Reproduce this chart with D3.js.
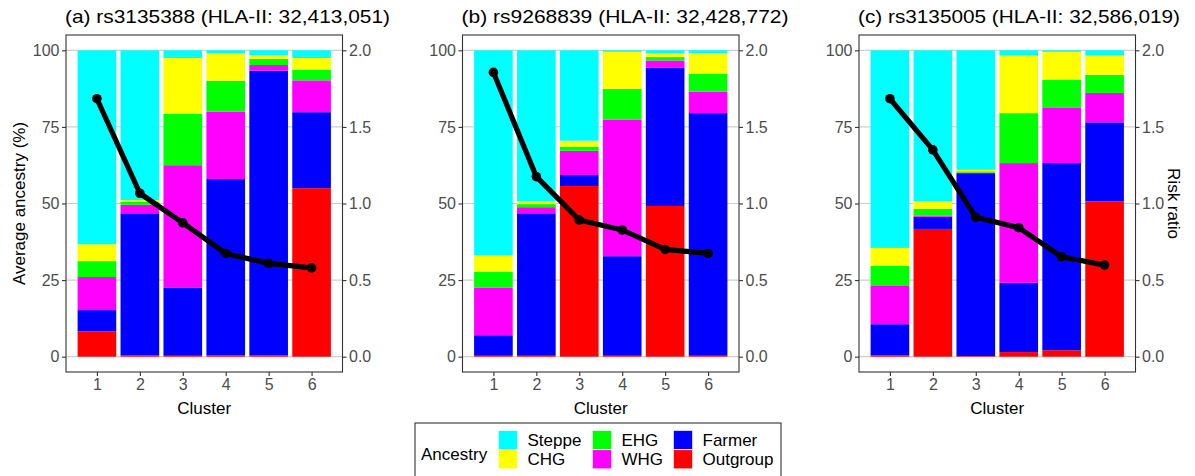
<!DOCTYPE html>
<html><head><meta charset="utf-8">
<script src="https://cdn.jsdelivr.net/npm/d3@7"></script>
<style>body{margin:0;background:#fff}svg{display:block;font-family:"Liberation Sans",Arial,sans-serif}</style>
</head><body><div id="chart"></div>
<script>
// ---- data ----
const clusters = [1, 2, 3, 4, 5, 6];
const ancestryStack = ["Outgroup", "Farmer", "WHG", "EHG", "CHG", "Steppe"]; // bottom -> top
const ancestryColors = {Steppe:"#00FFFF", CHG:"#FFFF00", EHG:"#00FF00", WHG:"#FF00FF", Farmer:"#0000FF", Outgroup:"#FF0000"};
const legendOrder = ["Steppe", "CHG", "EHG", "WHG", "Farmer", "Outgroup"];
const panelTitles = ["(a) rs3135388 (HLA-II: 32,413,051)", "(b) rs9268839 (HLA-II: 32,428,772)", "(c) rs3135005 (HLA-II: 32,586,019)"];
const leftTicks = [0, 25, 50, 75, 100];
const rightTicks = [0, 0.5, 1, 1.5, 2];

// panel (a)
const outgroupA = [8.3, 0.4, 0.3, 0.4, 0.4, 55.0];
const farmerA   = [6.9, 46.4, 22.3, 57.6, 93.0, 24.8];
const whgA      = [10.8, 2.8, 39.9, 22.0, 1.8, 10.4];
const ehgA      = [5.2, 0.9, 16.8, 10.1, 2.0, 3.5];
const chgA      = [5.5, 0.6, 18.2, 8.9, 1.2, 3.8];
const steppeA   = [63.3, 48.9, 2.5, 1.0, 1.6, 2.5];
const riskA     = [1.684, 1.067, 0.874, 0.674, 0.609, 0.580];
// panel (b)
const outgroupB = [0.3, 0.3, 55.7, 0.3, 49.2, 0.3];
const farmerB   = [6.7, 46.5, 3.6, 32.5, 45.2, 79.2];
const whgB      = [15.6, 2.0, 7.9, 44.5, 2.3, 7.0];
const ehgB      = [5.1, 1.0, 1.4, 10.1, 1.1, 5.9];
const chgB      = [5.4, 0.9, 1.9, 12.1, 1.2, 6.7];
const steppeB   = [66.9, 49.3, 29.5, 0.5, 1.0, 0.9];
const riskB     = [1.856, 1.175, 0.892, 0.827, 0.700, 0.674];
// panel (c)
const outgroupC = [0.4, 41.7, 0.2, 1.5, 2.1, 50.7];
const farmerC   = [10.2, 4.0, 59.7, 22.6, 61.1, 25.8];
const whgC      = [12.7, 0.4, 0.2, 39.1, 18.0, 9.6];
const ehgC      = [6.3, 2.2, 0.4, 16.3, 9.2, 5.9];
const chgC      = [5.9, 2.4, 0.5, 18.8, 9.1, 6.3];
const steppeC   = [64.5, 49.3, 39.0, 1.7, 0.5, 1.7];
const riskC     = [1.684, 1.350, 0.910, 0.842, 0.652, 0.598];

const panels = [
  {title: panelTitles[0], Outgroup: outgroupA, Farmer: farmerA, WHG: whgA, EHG: ehgA, CHG: chgA, Steppe: steppeA, risk: riskA},
  {title: panelTitles[1], Outgroup: outgroupB, Farmer: farmerB, WHG: whgB, EHG: ehgB, CHG: chgB, Steppe: steppeB, risk: riskB},
  {title: panelTitles[2], Outgroup: outgroupC, Farmer: farmerC, WHG: whgC, EHG: ehgC, CHG: chgC, Steppe: steppeC, risk: riskC}
];

// ---- layout ----
const W = 1195, H = 476;
const panelLeft = [66, 462.5, 859], panelW = 276.5, pTop = 35, pBottom = 372;
const titleLen = [325, 327, 322];

const svg = d3.select("#chart").append("svg").attr("width", W).attr("height", H);

const y = d3.scaleLinear().domain([-5, 105]).range([pBottom, pTop]);
const yR = d3.scaleLinear().domain([-0.1, 2.1]).range([pBottom, pTop]);

panels.forEach((p, i) => {
  const L = panelLeft[i], R = L + panelW;
  const x = d3.scaleLinear().domain([0.28, 6.72]).range([L, R]);
  const step = x(2) - x(1), bw = step * 0.9;
  const g = svg.append("g");

  // gridlines
  g.selectAll(".grid").data(leftTicks).join("line")
    .attr("x1", L).attr("x2", R).attr("y1", d => y(d)).attr("y2", d => y(d))
    .attr("stroke", "#CFCFCF").attr("stroke-width", 1.2);

  // stacked bars
  const rows = clusters.map((c, j) => { const o = {cluster: c}; ancestryStack.forEach(k => o[k] = p[k][j]); return o; });
  const series = d3.stack().keys(ancestryStack)(rows);
  g.selectAll(".s").data(series).join("g").attr("fill", d => ancestryColors[d.key])
    .selectAll("rect").data(d => d).join("rect")
    .attr("x", d => x(d.data.cluster) - bw / 2).attr("width", bw)
    .attr("y", d => y(d[1])).attr("height", d => y(d[0]) - y(d[1]));

  // risk line
  const pts = clusters.map((c, j) => [c, p.risk[j]]);
  g.append("path").datum(pts)
    .attr("d", d3.line().x(d => x(d[0])).y(d => yR(d[1])))
    .attr("fill", "none").attr("stroke", "#000").attr("stroke-width", 5.2).attr("stroke-linejoin", "round");
  g.selectAll(".pt").data(pts).join("circle")
    .attr("cx", d => x(d[0])).attr("cy", d => yR(d[1])).attr("r", 4.8).attr("fill", "#000");

  // border
  g.append("rect").attr("x", L).attr("y", pTop).attr("width", panelW).attr("height", pBottom - pTop)
    .attr("fill", "none").attr("stroke", "#333").attr("stroke-width", 1.1);

  // axes
  const styleAxis = sel => {
    sel.select(".domain").remove();
    sel.selectAll(".tick line").attr("stroke", "#333").attr("stroke-width", 1.1);
    sel.selectAll(".tick text").attr("fill", "#4D4D4D").style("font-size", "16px");
  };
  g.append("g").attr("transform", `translate(${L},0)`)
    .call(d3.axisLeft(y).tickValues(leftTicks).tickSize(4).tickPadding(2.5).tickFormat(d3.format("d")))
    .call(styleAxis);
  g.append("g").attr("transform", `translate(${R},0)`)
    .call(d3.axisRight(yR).tickValues(rightTicks).tickSize(4).tickPadding(2.5).tickFormat(d3.format(".1f")))
    .call(styleAxis);
  g.append("g").attr("transform", `translate(0,${pBottom})`)
    .call(d3.axisBottom(x).tickValues(clusters).tickSize(4).tickPadding(3).tickFormat(d3.format("d")))
    .call(styleAxis);

  // titles
  g.append("text").attr("x", L - 1).attr("y", 22.5).text(p.title)
    .style("font-size", "19px").attr("fill", "#000")
    .attr("textLength", titleLen[i]).attr("lengthAdjust", "spacingAndGlyphs");
  g.append("text").attr("x", (L + R) / 2).attr("y", 414).attr("text-anchor", "middle")
    .style("font-size", "17px").attr("fill", "#000").text("Cluster");
});

// y axis titles
svg.append("text").attr("transform", `translate(25,${(pTop + pBottom) / 2}) rotate(-90)`)
  .attr("text-anchor", "middle").style("font-size", "17px").text("Average ancestry (%)");
svg.append("text").attr("transform", `translate(1168,${(pTop + pBottom) / 2}) rotate(90)`)
  .attr("text-anchor", "middle").style("font-size", "17px").text("Risk ratio");

// legend
const lg = svg.append("g");
lg.append("rect").attr("x", 415).attr("y", 423).attr("width", 366).attr("height", 70)
  .attr("fill", "#fff").attr("stroke", "#333").attr("stroke-width", 1.1);
lg.append("text").attr("x", 421).attr("y", 460).style("font-size", "17px").text("Ancestry");
const colX = [498.5, 592.5, 673.5], labX = [527.5, 621.5, 702.5], rowY = [430.5, 449.8];
legendOrder.forEach((k, i) => {
  const c = Math.floor(i / 2), r = i % 2;
  lg.append("rect").attr("x", colX[c]).attr("y", rowY[r]).attr("width", 19).attr("height", 19)
    .attr("fill", ancestryColors[k]).attr("stroke", "#fff").attr("stroke-width", 0.6);
  lg.append("text").attr("x", labX[c]).attr("y", rowY[r] + 15.5).style("font-size", "17px").text(k);
});
</script></body></html>
